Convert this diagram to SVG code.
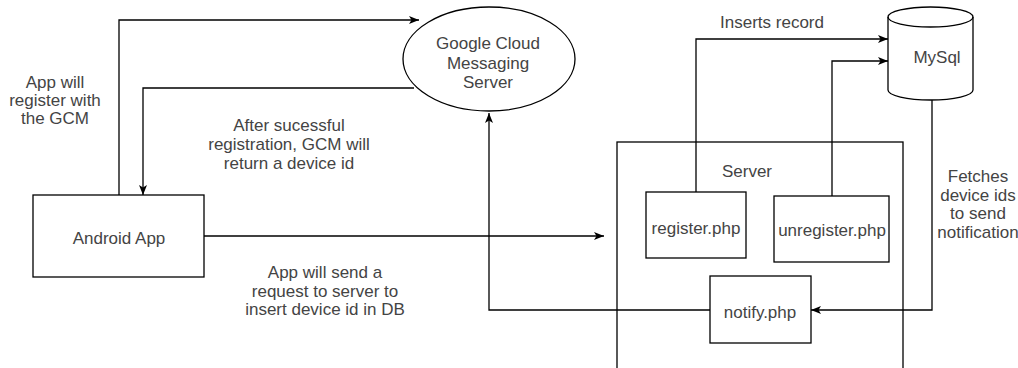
<svg xmlns="http://www.w3.org/2000/svg" width="1018" height="368" viewBox="0 0 1018 368">
<defs>
<marker id="arr" markerUnits="userSpaceOnUse" markerWidth="12" markerHeight="10" refX="11" refY="5" orient="auto">
<path d="M1,1 L11,5 L1,9 L3.5,5 Z" fill="#000"/>
</marker>
<style>
.shape{fill:#fff;stroke:#000;stroke-width:1.3}
.conn{fill:none;stroke:#000;stroke-width:1.3;marker-end:url(#arr)}
text{font-family:"Liberation Sans",Arial,sans-serif;font-size:17px;fill:#444;text-anchor:middle}
</style>
</defs>
<rect width="1018" height="368" fill="#fff"/>
<g id="server">
<rect class="shape" x="617" y="142" width="286" height="260"/>
<text x="747" y="177">Server</text>
</g>
<g id="connectors">
<path class="conn" d="M119,195 V20 H419"/>
<path class="conn" d="M414,88 H143 V195"/>
<path class="conn" d="M204,236 H604"/>
<path class="conn" d="M710,310 H489 V113"/>
<path class="conn" d="M696,192 V39 H888"/>
<path class="conn" d="M832,196 V61 H888"/>
<path class="conn" d="M932,100 V310 H811"/>
</g>
<g id="gcm">
<ellipse class="shape" cx="489" cy="59" rx="86" ry="52" fill="none"/>
<text x="488" y="49">Google Cloud</text>
<text x="488" y="69">Messaging</text>
<text x="488" y="88">Server</text>
</g>
<g id="android">
<rect class="shape" x="33" y="195" width="171" height="82"/>
<text x="119" y="244">Android App</text>
</g>
<g id="mysql">
<path class="shape" d="M888,17 A42.5,10 0 0 1 973,17 V90 A42.5,10 0 0 1 888,90 Z"/>
<path fill="none" stroke="#000" stroke-width="1.3" d="M888,17 A42.5,10 0 0 0 973,17"/>
<text x="937" y="63">MySql</text>
</g>
<g id="register">
<rect class="shape" x="646" y="192" width="100" height="66"/>
<text x="696" y="234">register.php</text>
</g>
<g id="unregister">
<rect class="shape" x="774" y="196" width="115" height="66"/>
<text x="832" y="236">unregister.php</text>
</g>
<g id="notify">
<rect class="shape" x="710" y="276" width="101" height="67"/>
<text x="760" y="318">notify.php</text>
</g>
<g id="labels">
<text x="55" y="88">App will</text>
<text x="55" y="106">register with</text>
<text x="55" y="124">the GCM</text>
<text x="289" y="131">After sucessful</text>
<text x="289" y="150">registration, GCM will</text>
<text x="289" y="169">return a device id</text>
<text x="325" y="278">App will send a</text>
<text x="325" y="297">request to server to</text>
<text x="325" y="315">insert device id in DB</text>
<text x="772" y="28">Inserts record</text>
<text x="978" y="182">Fetches</text>
<text x="978" y="201">device ids</text>
<text x="978" y="219">to send</text>
<text x="978" y="238">notification</text>
</g>
</svg>
